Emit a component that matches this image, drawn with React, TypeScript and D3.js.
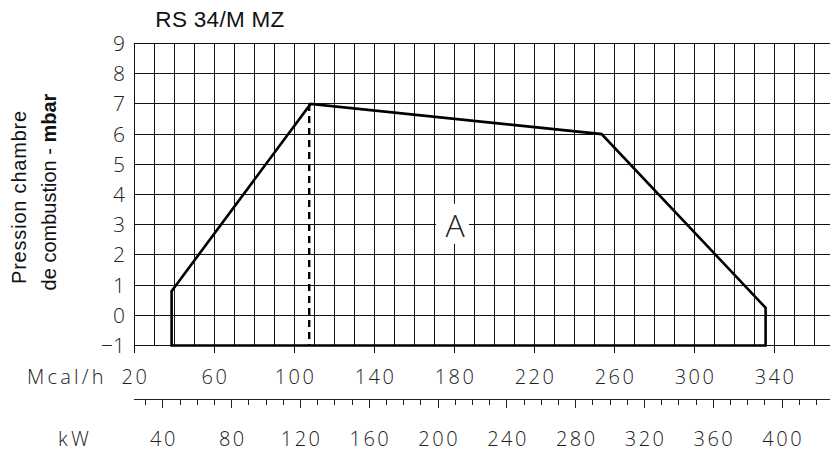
import * as d3 from "d3";

// chart values
const mbarTicks = [-1, 0, 1, 2, 3, 4, 5, 6, 7, 8, 9];
const mcalLabels = [20, 60, 100, 140, 180, 220, 260, 300, 340];
const kwLabels = [40, 80, 120, 160, 200, 240, 280, 320, 360, 400];
// working field polygon: output in Mcal/h, pressure in mbar
const fieldMcal = [38.8, 38.8, 108.3, 253.8, 335.8, 335.8];
const fieldMbar = [-1, 0.8, 7, 6, 0.25, -1];
// dashed line at the start of the modulation range
const dashMcal = 107.6;
const dashMbar = [7, -1];

const W = 830;
const H = 454;
const KW_TO_MCAL = 0.86;

const isoFont = "'Open Sans', 'DejaVu Sans', sans-serif";
const sansFont = "'Liberation Sans', Arial, sans-serif";

export default function App() {
	const x = d3.scaleLinear().domain([20, 368]).range([134, 830]);
	const y = d3.scaleLinear().domain([-1, 9]).range([345.5, 43.5]);
	// kW axis shares the pixel space through the Mcal/h conversion
	const xKw = d3
		.scaleLinear()
		.domain([20 / KW_TO_MCAL, 368 / KW_TO_MCAL])
		.range([134, 830]);

	const vGrid = d3.range(20, 361, 10);
	const kwTicks = d3.range(30, 421, 10);

	const line = d3
		.line<number>()
		.x((_, i) => x(fieldMcal[i]))
		.y((d) => y(d));
	const fieldPath = line(fieldMbar) + "Z";

	const kwAxisY = 399.5;
	const aX = x(180);
	const aY = y(3);

	return (
		<svg
			width={W}
			height={H}
			style={{ position: "absolute", left: 0, top: 0, background: "#fff" }}
		>
			<rect width={W} height={H} fill="#fff" />

			{/* title */}
			<text
				x={220}
				y={27}
				textAnchor="middle"
				fontFamily={sansFont}
				fontSize={22.5}
				letterSpacing={0.3}
				fill="#111"
			>
				RS 34/M MZ
			</text>

			{/* y axis title */}
			<g transform="translate(25.5,197) rotate(-90)">
				<text
					textAnchor="middle"
					fontFamily={sansFont}
					fontSize={20}
					letterSpacing={0.8}
					fill="#111"
				>
					Pression chambre
				</text>
			</g>
			<g transform="translate(56,192) rotate(-90)">
				<text
					textAnchor="middle"
					fontFamily={sansFont}
					fontSize={20}
					letterSpacing={0}
					fill="#111"
				>
					de combustion - <tspan fontWeight="bold">mbar</tspan>
				</text>
			</g>

			{/* grid */}
			<g stroke="#111" strokeWidth={1} shapeRendering="crispEdges">
				{mbarTicks.map((t) => (
					<line key={"h" + t} x1={x(20)} x2={W} y1={y(t)} y2={y(t)} />
				))}
				{vGrid.map((v) => (
					<line key={"v" + v} x1={x(v)} x2={x(v)} y1={y(9)} y2={y(-1)} />
				))}
				{mcalLabels.map((v) => (
					<line key={"t" + v} x1={x(v)} x2={x(v)} y1={y(-1)} y2={y(-1) + 7} />
				))}
			</g>

			{/* y tick labels */}
			{mbarTicks.map((t) => (
				<text
					key={"yl" + t}
					x={125}
					y={y(t)}
					dy="0.36em"
					textAnchor="end"
					fontFamily={isoFont}
					fontWeight={300}
					fontSize={21}
					fill="#222"
				>
					{t < 0 ? "\u2212" + Math.abs(t) : t}
				</text>
			))}

			{/* Mcal/h axis labels */}
			<text
				x={27}
				y={384}
				fontFamily={isoFont}
				fontWeight={300}
				fontSize={20}
				letterSpacing={3.2}
				fill="#222"
			>
				Mcal/h
			</text>
			{mcalLabels.map((v) => (
				<text
					key={"ml" + v}
					x={x(v) + 1.5}
					y={384}
					textAnchor="middle"
					fontFamily={isoFont}
					fontWeight={300}
					fontSize={20}
					letterSpacing={2.5}
					fill="#222"
				>
					{v}
				</text>
			))}

			{/* kW axis */}
			<g stroke="#222" strokeWidth={1} shapeRendering="crispEdges">
				<line x1={x(20)} x2={W} y1={kwAxisY} y2={kwAxisY} />
				{kwTicks.map((k) => (
					<line
						key={"kt" + k}
						x1={xKw(k)}
						x2={xKw(k)}
						y1={kwAxisY}
						y2={kwAxisY + (k % 40 === 0 ? 8 : 5)}
					/>
				))}
			</g>
			<text
				x={58}
				y={446}
				fontFamily={isoFont}
				fontWeight={300}
				fontSize={20}
				letterSpacing={3.2}
				fill="#222"
			>
				kW
			</text>
			{kwLabels.map((k) => (
				<text
					key={"kl" + k}
					x={xKw(k) + 1.2}
					y={446}
					textAnchor="middle"
					fontFamily={isoFont}
					fontWeight={300}
					fontSize={20}
					letterSpacing={2.5}
					fill="#222"
				>
					{k}
				</text>
			))}

			{/* field outline */}
			<path
				d={fieldPath}
				fill="none"
				stroke="#000"
				strokeWidth={2.6}
				strokeLinejoin="miter"
			/>
			<line
				x1={x(dashMcal)}
				x2={x(dashMcal)}
				y1={y(dashMbar[0])}
				y2={y(dashMbar[1])}
				stroke="#000"
				strokeWidth={2.4}
				strokeDasharray="7,5"
			/>

			{/* field label */}
			<rect x={aX - 18} y={aY - 21} width={33} height={40} fill="#fff" />
			<text
				x={aX + 1}
				y={aY + 12}
				textAnchor="middle"
				fontFamily={isoFont}
				fontWeight={300}
				fontSize={32}
				fill="#222"
			>
				A
			</text>
		</svg>
	);
}
